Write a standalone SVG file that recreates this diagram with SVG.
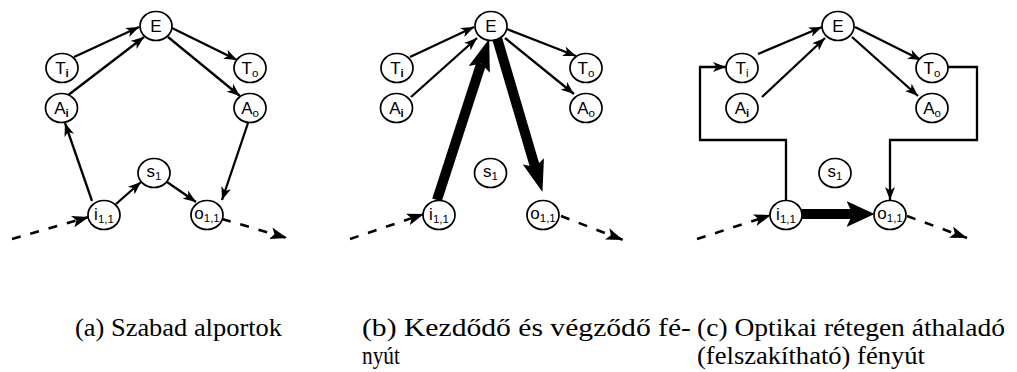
<svg xmlns="http://www.w3.org/2000/svg" width="1017" height="372" viewBox="0 0 1017 372">
<style>
.n ellipse{fill:#fff;stroke:#000;stroke-width:1.7}
.n text{font-family:"Liberation Sans",Arial,sans-serif;font-size:17px;text-anchor:middle;fill:#000}
.s{font-size:11.5px}
.e{stroke:#000;stroke-width:2.3;fill:none;marker-end:url(#ah)}
.d{stroke:#000;stroke-width:2.6;fill:none;stroke-dasharray:9 10;marker-end:url(#ah2)}
.t{stroke:#000;stroke-width:10;fill:none}
.tb{marker-end:url(#thb)}
.tc{marker-end:url(#thc)}
.cap{font-family:"Liberation Serif","Times New Roman",serif;font-size:25px;fill:#000}
</style>
<defs>
<marker id="ah" markerUnits="userSpaceOnUse" markerWidth="13" markerHeight="10" refX="13" refY="5" orient="auto"><path d="M0,0 L13,5 L0,10 L3.5,5 z" fill="#000"/></marker>
<marker id="ah2" markerUnits="userSpaceOnUse" markerWidth="17" markerHeight="12" refX="17" refY="6" orient="auto"><path d="M0,0 L17,6 L0,12 L4,6 z" fill="#000"/></marker>
<marker id="thb" markerUnits="userSpaceOnUse" markerWidth="32" markerHeight="22" refX="6" refY="11" orient="auto"><path d="M0,0 L32,11 L0,22 L6,11 z" fill="#000"/></marker>
<marker id="thc" markerUnits="userSpaceOnUse" markerWidth="28" markerHeight="26" refX="6" refY="13" orient="auto"><path d="M0,0 L28,13 L0,26 L6,13 z" fill="#000"/></marker>
</defs>

<g id="connectors">
<!-- panel a -->
<path class="e" d="M74,57 L139,27"/>
<path class="e" d="M67,96 L144,37"/>
<path class="e" d="M172,28 L237,60"/>
<path class="e" d="M168,37 L240,96"/>
<path class="e" d="M92,201 L65,123"/>
<path class="e" d="M116,204 L141,182"/>
<path class="e" d="M167,182 L196,202"/>
<path class="e" d="M248,123 L222,200"/>
<path class="d" d="M12,239 L89,217"/>
<path class="d" d="M222,219 L287,238"/>
<!-- panel b -->
<path class="e" d="M410,57 L474,27"/>
<path class="e" d="M411,97 L477,38"/>
<path class="e" d="M507,29 L576,56"/>
<path class="e" d="M505,38 L574,94"/>
<path class="t tb" d="M437,200 L481.2,63.6"/>
<path class="t tb" d="M497,38 L535.1,167.1"/>
<path class="d" d="M350,239 L424,214"/>
<path class="d" d="M561,216 L623,240"/>
<!-- panel c -->
<path class="e" d="M758,54 L822,27"/>
<path class="e" d="M762,97 L825,38"/>
<path class="e" d="M855,27 L921,60"/>
<path class="e" d="M852,37 L918,96"/>
<path class="e" d="M786,201 L786,140 L700,140 L700,67 L726,67"/>
<path class="e" d="M947.5,67 L977,67 L977,140 L890,140 L890,200"/>
<path class="t tc" d="M801.5,214 L852.5,214"/>
<path class="d" d="M697,239 L771,215"/>
<path class="d" d="M907,216 L967,238"/>
</g>

<!-- panel a nodes -->
<g id="a-E" class="n"><ellipse cx="156" cy="26" rx="16" ry="14.5"/><text x="156" y="32">E</text></g>
<g id="a-Ti" class="n"><ellipse cx="62" cy="68" rx="16" ry="14.5"/><text x="62" y="73.5">T<tspan class="s" dy="3" font-weight="bold">i</tspan></text></g>
<g id="a-Ai" class="n"><ellipse cx="61.5" cy="108" rx="16" ry="14.5"/><text x="61.5" y="113.5">A<tspan class="s" dy="3" font-weight="bold">i</tspan></text></g>
<g id="a-To" class="n"><ellipse cx="250" cy="68" rx="16" ry="14.5"/><text x="250" y="73.5">T<tspan class="s" dy="3">o</tspan></text></g>
<g id="a-Ao" class="n"><ellipse cx="250" cy="108" rx="16" ry="14.5"/><text x="250" y="113.5">A<tspan class="s" dy="3">o</tspan></text></g>
<g id="a-s1" class="n"><ellipse cx="154" cy="173" rx="16" ry="14.5"/><text x="154" y="177">s<tspan class="s" dy="3">1</tspan></text></g>
<g id="a-i11" class="n"><ellipse cx="104" cy="215" rx="16" ry="14.5"/><text x="104" y="219.5">i<tspan class="s" dy="3">1,1</tspan></text></g>
<g id="a-o11" class="n"><ellipse cx="207" cy="215" rx="16" ry="14.5"/><text x="207" y="219">o<tspan class="s" dy="3">1,1</tspan></text></g>

<!-- panel b nodes -->
<g id="b-E" class="n"><ellipse cx="491" cy="26" rx="16" ry="14.5"/><text x="491" y="32">E</text></g>
<g id="b-Ti" class="n"><ellipse cx="397" cy="68" rx="16" ry="14.5"/><text x="397" y="73.5">T<tspan class="s" dy="3" font-weight="bold">i</tspan></text></g>
<g id="b-Ai" class="n"><ellipse cx="396.5" cy="108" rx="16" ry="14.5"/><text x="396.5" y="113.5">A<tspan class="s" dy="3" font-weight="bold">i</tspan></text></g>
<g id="b-To" class="n"><ellipse cx="586" cy="68" rx="16" ry="14.5"/><text x="586" y="73.5">T<tspan class="s" dy="3">o</tspan></text></g>
<g id="b-Ao" class="n"><ellipse cx="586" cy="108" rx="16" ry="14.5"/><text x="586" y="113.5">A<tspan class="s" dy="3">o</tspan></text></g>
<g id="b-s1" class="n"><ellipse cx="490.5" cy="173" rx="16" ry="14.5"/><text x="490.5" y="177">s<tspan class="s" dy="3">1</tspan></text></g>
<g id="b-i11" class="n"><ellipse cx="439" cy="215" rx="16" ry="14.5"/><text x="439" y="219.5">i<tspan class="s" dy="3">1,1</tspan></text></g>
<g id="b-o11" class="n"><ellipse cx="543" cy="215" rx="16" ry="14.5"/><text x="543" y="219">o<tspan class="s" dy="3">1,1</tspan></text></g>

<!-- panel c nodes -->
<g id="c-E" class="n"><ellipse cx="838" cy="26" rx="16" ry="14.5"/><text x="838" y="32">E</text></g>
<g id="c-Ti" class="n"><ellipse cx="742" cy="68" rx="16" ry="14.5"/><text x="742" y="73.5">T<tspan class="s" dy="3">i</tspan></text></g>
<g id="c-Ai" class="n"><ellipse cx="742" cy="108" rx="16" ry="14.5"/><text x="742" y="113.5">A<tspan class="s" dy="3" font-weight="bold">i</tspan></text></g>
<g id="c-To" class="n"><ellipse cx="932" cy="68" rx="16" ry="14.5"/><text x="932" y="73.5">T<tspan class="s" dy="3">o</tspan></text></g>
<g id="c-Ao" class="n"><ellipse cx="932" cy="108" rx="16" ry="14.5"/><text x="932" y="113.5">A<tspan class="s" dy="3">o</tspan></text></g>
<g id="c-s1" class="n"><ellipse cx="835" cy="173" rx="16" ry="14.5"/><text x="835" y="177">s<tspan class="s" dy="3">1</tspan></text></g>
<g id="c-i11" class="n"><ellipse cx="786" cy="215" rx="16" ry="14.5"/><text x="786" y="219.5">i<tspan class="s" dy="3">1,1</tspan></text></g>
<g id="c-o11" class="n"><ellipse cx="890" cy="215" rx="16" ry="14.5"/><text x="890" y="219">o<tspan class="s" dy="3">1,1</tspan></text></g>

<g id="captions">
<text class="cap" x="75" y="336" textLength="207" lengthAdjust="spacingAndGlyphs">(a) Szabad alportok</text>
<text class="cap" x="362" y="336" textLength="329" lengthAdjust="spacingAndGlyphs">(b) Kezdődő és végződő fé-</text>
<text class="cap" x="362" y="364" textLength="38" lengthAdjust="spacingAndGlyphs">nyút</text>
<text class="cap" x="697" y="336" textLength="308" lengthAdjust="spacingAndGlyphs">(c) Optikai rétegen áthaladó</text>
<text class="cap" x="697" y="364" textLength="228" lengthAdjust="spacingAndGlyphs">(felszakítható) fényút</text>
</g>
</svg>
